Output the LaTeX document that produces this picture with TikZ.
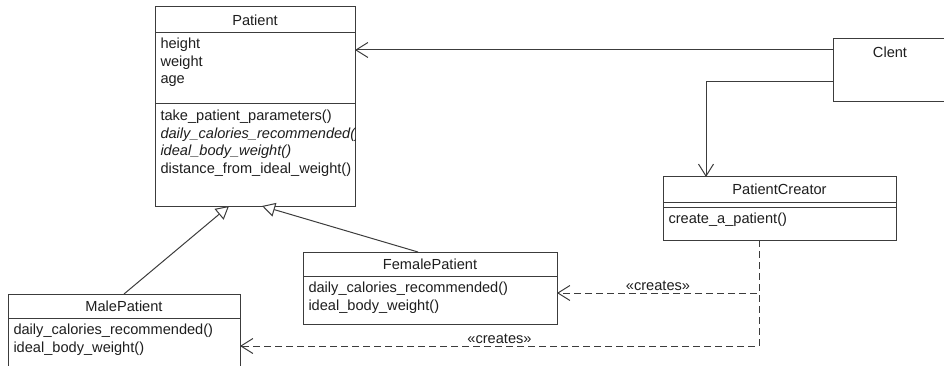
\documentclass[tikz,border=0pt]{standalone}
\usepackage{fontspec}
\setmainfont{Liberation Sans}
\usetikzlibrary{arrows.meta}
\usetikzlibrary{positioning, calc}
\definecolor{umlline}{RGB}{60,60,60}
\definecolor{umltext}{RGB}{30,30,30}
\newcommand{\umlfont}{\fontsize{14.6}{17.5}\selectfont}

\begin{document}
\begin{tikzpicture}[x=1pt, y=-1pt, umlline, line width=1pt,
    box/.style={draw=umlline, fill=white, rectangle, outer sep=0pt, inner sep=0pt, anchor=north west},
    cname/.style={box, font=\umlfont, text=umltext},
    members/.style={anchor=north west, align=left, font=\umlfont, text=umltext, inner xsep=5pt, inner ysep=5.5pt},
    assoc/.style={-{Straight Barb[length=12pt, width=15pt]}},
    inherit/.style={-{Triangle[open, length=13pt, width=14pt, fill=white]}},
    dep/.style={dash pattern=on 7pt off 4pt, -{Straight Barb[length=12pt, width=15pt]}},
    stereo/.style={font=\umlfont, text=umltext, above, inner sep=1.5pt}]
    \useasboundingbox (0,0) rectangle (944,366);

    % Patient
    \node[cname, minimum width=200pt, minimum height=26pt] (patient) at (155,7) {Patient};
    \node[box, minimum width=200pt, minimum height=71pt, below=0pt of patient] (patientattr) {};
    \node[box, minimum width=200pt, minimum height=102pt, below=0pt of patientattr] (patientops) {};
    \node[members, inner ysep=4.5pt] (patientattrtext) at (patientattr.north west)
        {height\\weight\\age};
    \begin{scope}
        \clip (patientops.north west) rectangle (patientops.south east);
        \node[members] (patientopstext) at (patientops.north west)
            {take\_patient\_parameters()\\\textit{daily\_calories\_recommended()}\\
             \textit{ideal\_body\_weight()}\\distance\_from\_ideal\_weight()};
    \end{scope}

    % Clent
    \node[box, minimum width=114pt, minimum height=63pt] (client) at (833,39) {};
    \node[font=\umlfont, text=umltext, anchor=base] (clienttext) at ($(client.north)+(0,19)$) {Clent};

    % PatientCreator
    \node[cname, minimum width=233pt, minimum height=25pt] (creator) at (663,177) {PatientCreator};
    \node[box, minimum width=233pt, minimum height=5pt, below=0pt of creator] (creatorsep) {};
    \node[box, minimum width=233pt, minimum height=33pt, below=0pt of creatorsep] (creatorops) {};
    \node[members] (creatoropstext) at (creatorops.north west) {create\_a\_patient()};

    % FemalePatient
    \node[cname, minimum width=254pt, minimum height=24pt] (female) at (303,252) {FemalePatient};
    \node[box, minimum width=254pt, minimum height=48pt, below=0pt of female] (femaleops) {};
    \node[members] (femaleopstext) at (femaleops.north west)
        {daily\_calories\_recommended()\\ideal\_body\_weight()};

    % MalePatient
    \node[cname, minimum width=232pt, minimum height=24pt] (male) at (8,294) {MalePatient};
    \node[box, minimum width=232pt, minimum height=56pt, below=0pt of male] (maleops) {};
    \node[members] (maleopstext) at (maleops.north west)
        {daily\_calories\_recommended()\\ideal\_body\_weight()};

    % connector ends
    \coordinate (clientout1) at ($(client.north west)+(0,11)$);
    \coordinate (clientout2) at ($(client.north west)+(0,43)$);
    \coordinate (creatorin) at ($(creator.north west)+(43,0)$);
    \coordinate (creatorout) at ($(creatorops.south west)+(96,0)$);
    \coordinate (femalein) at ($(femaleops.north east)+(0,17)$);
    \coordinate (malein) at ($(maleops.north east)+(0,28)$);
    \coordinate (femaleup) at ($(female.north west)+(115,0)$);
    \coordinate (patientin1) at ($(patientops.south west)+(74,0)$);
    \coordinate (patientin2) at ($(patientops.south west)+(107,0)$);

    \draw[assoc] (clientout1) -- (clientout1 -| patientattr.east);
    \draw[assoc] (clientout2) -| (creatorin);
    \draw[inherit] (male.north) -- (patientin1);
    \draw[inherit] (femaleup) -- (patientin2);
    \draw[dep] (creatorout) |- (femalein) node[stereo, pos=0.75] (creates1) {«creates»};
    \draw[dep] (creatorout) |- (malein) node[stereo, pos=0.75] (creates2) {«creates»};
\end{tikzpicture}
\end{document}
